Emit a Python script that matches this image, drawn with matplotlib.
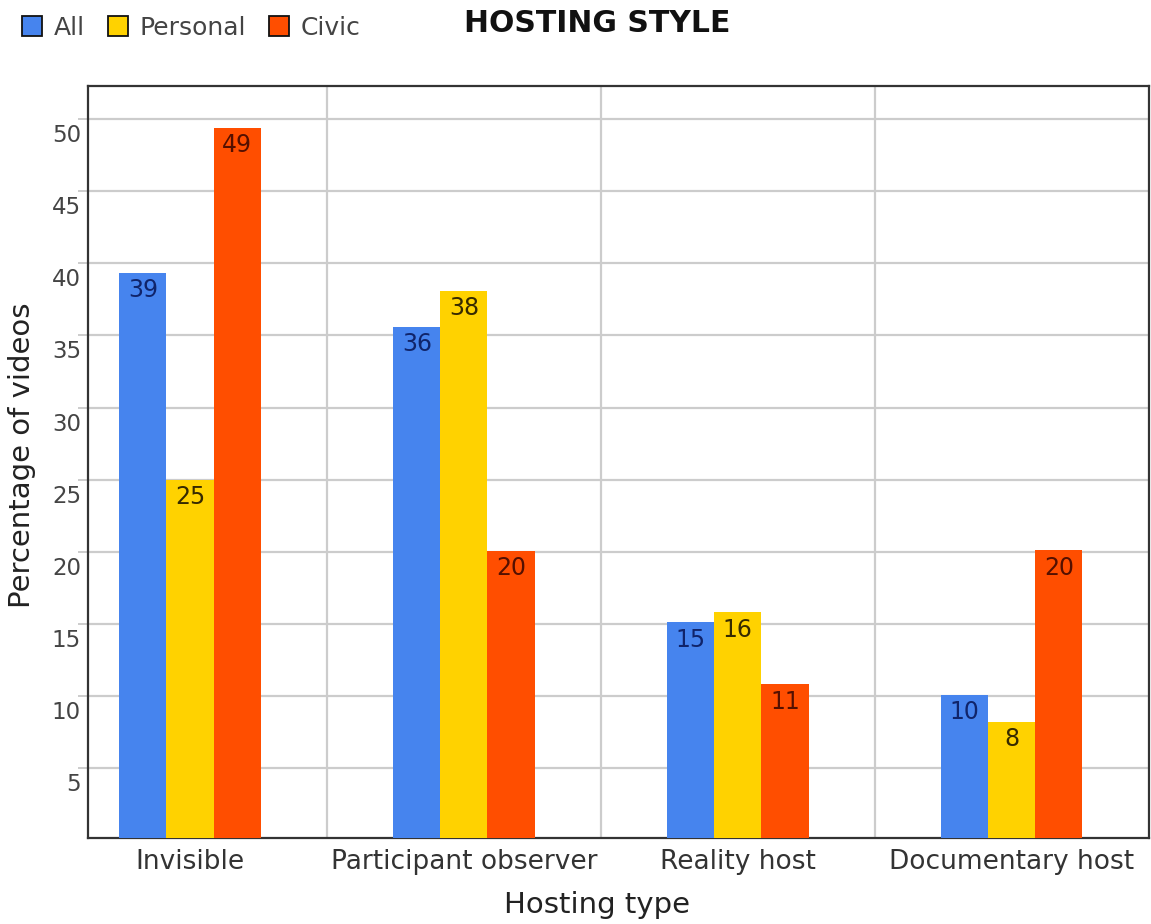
import matplotlib
matplotlib.use('Agg')
import matplotlib.pyplot as plt
from matplotlib.lines import Line2D
from matplotlib.transforms import ScaledTranslation
import numpy as np

# Data (percent of videos)
categories = ['Invisible', 'Participant observer', 'Reality host', 'Documentary host']
series = ['All', 'Personal', 'Civic']
all_vals = [39.35, 35.6, 15.1, 10.07]
personal_vals = [25.0, 38.1, 15.8, 8.2]
civic_vals = [49.4, 20.07, 10.8, 20.1]
yticks = [5, 10, 15, 20, 25, 30, 35, 40, 45, 50]

colors = ['#4684EE', '#FFD200', '#FF4E00']
label_colors = ['#10246a', '#362a00', '#541000']

plt.rcParams['font.family'] = 'DejaVu Sans'
fig = plt.figure(figsize=(11.51, 9.24), dpi=100)
ax = fig.add_axes([88 / 1151, 86 / 924, 1061 / 1151, 752 / 924])

x = np.arange(len(categories))
width = 0.172
for i, (vals, c, lc) in enumerate(zip([all_vals, personal_vals, civic_vals], colors, label_colors)):
    pos = x + (i - 1) * width
    bars = ax.bar(pos, vals, width=width, color=c, zorder=3)
    for b, v in zip(bars, vals):
        ax.annotate(f'{v:.0f}', (b.get_x() + b.get_width() / 2, v),
                    xytext=(0, -4), textcoords='offset points',
                    ha='center', va='top', fontsize=17, color=lc, zorder=4)

ax.set_xlim(-0.3724, 3.501)
ax.set_ylim(0.14, 52.3)

# Grid
ax.set_yticks(yticks)
ax.set_xticks(x)
ax.set_xticks(x[:-1] + 0.5, minor=True)
ax.set_xticklabels(categories, fontsize=19, color='#333333')
ax.grid(axis='y', which='major', color='#cccccc', lw=1.6, zorder=0)
ax.grid(axis='x', which='minor', color='#cccccc', lw=1.6, zorder=0)
ax.set_axisbelow(True)

ax.tick_params(axis='x', which='both', length=0, pad=8)
ax.tick_params(axis='y', length=7, width=1.4, color='#cccccc',
               labelsize=16.5, labelcolor='#444444', pad=-2)
# y labels sit just under their grid line
shift = ScaledTranslation(0, -0.05, fig.dpi_scale_trans)
for lbl in ax.get_yticklabels():
    lbl.set_va('top')
    lbl.set_transform(lbl.get_transform() + shift)

for s in ax.spines.values():
    s.set_color('#333333')
    s.set_linewidth(1.6)

# Labels and title
fig.text(22 / 1151, 1 - 455 / 924, 'Percentage of videos', rotation=90,
         ha='center', va='center', fontsize=21, color='#222222')
fig.text(597 / 1151, 1 - 905 / 924, 'Hosting type',
         ha='center', va='center', fontsize=21, color='#222222')
fig.text(597 / 1151, 1 - 24 / 924, 'HOSTING STYLE',
         ha='center', va='center', fontsize=21.5, fontweight='bold', color='#111111')

handles = [Line2D([], [], marker='s', ls='none', markersize=14.4,
                  markerfacecolor=c, markeredgecolor='#111111', markeredgewidth=1.3)
           for c in colors]
fig.legend(handles, series, loc='center left', bbox_to_anchor=(22 / 1151, 1 - 28 / 924),
           ncol=3, frameon=False, fontsize=18, handlelength=0.8, handletextpad=0.48,
           columnspacing=0.9, borderpad=0, borderaxespad=0, labelcolor='#444444')

fig.savefig('out.png', dpi=100)
